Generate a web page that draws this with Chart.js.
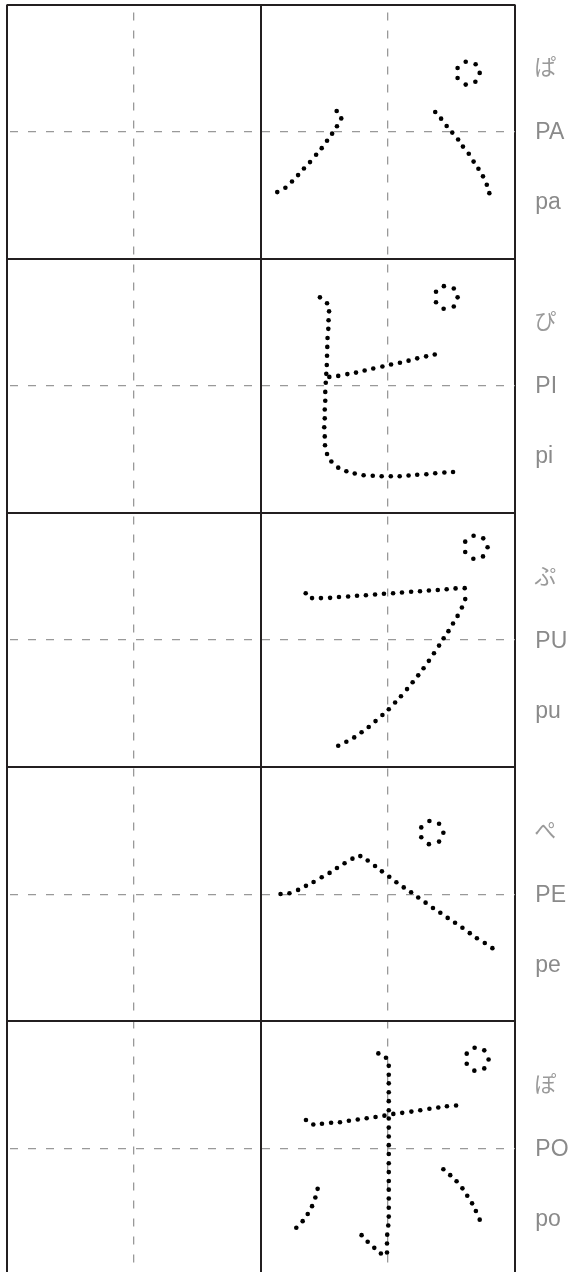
<!DOCTYPE html>
<html><head><meta charset="utf-8">
<script src="https://cdn.jsdelivr.net/npm/chart.js@4.4.0/dist/chart.umd.min.js"></script>
<style>html,body{margin:0;padding:0;background:#fff;}canvas{display:block;}</style>
</head><body>
<canvas id="c" width="574" height="1276"></canvas>
<script>
// Row labels
const kanaLabels = ['ぱ', 'ぴ', 'ぷ', 'ぺ', 'ぽ'];
const upperLabels = ['PA', 'PI', 'PU', 'PE', 'PO'];
const lowerLabels = ['pa', 'pi', 'pu', 'pe', 'po'];

// Grid values (cell units: each cell is 100 wide / 100 tall)
const xGridValues = [0, 50, 100, 150, 200];
const yGridValues = [0, 50, 100, 150, 200, 250, 300, 350, 400, 450];

// Dot positions of each katakana inside its cell (x, y in 0..100 of the cell)
const paPoints = [
  [29.8,41.9],[31.6,44.8],[29.9,47.9],[28.0,50.8],[26.0,53.6],[23.9,56.5],[21.7,59.1],[19.3,62.0],[16.9,64.5],[14.6,67.1],[12.2,69.6],[9.6,72.1],[6.4,73.8],
  [68.6,42.3],[70.9,44.9],[73.1,47.8],[75.3,50.4],[77.6,53.1],[79.5,55.9],[81.8,58.7],[83.7,61.8],[85.6,64.6],[87.4,67.6],[88.9,70.9],[89.9,74.2],
  [80.6,22.5],[84.5,23.5],[86.1,26.9],[84.4,30.4],[80.6,31.5],[77.4,28.9],[77.4,25.0]
];
const piPoints = [
  [23.2,15.2],[26.0,17.5],[26.8,20.7],[26.6,24.2],[26.5,27.6],[26.2,31.2],[26.1,34.7],[26.0,38.2],[25.9,41.8],[25.7,45.3],[25.5,48.8],[25.3,52.4],[25.3,55.9],[25.1,59.3],[25.1,62.8],[24.9,66.3],[25.1,69.9],[25.2,73.4],[26.0,76.8],[27.7,79.8],[30.4,82.2],[33.6,83.6],[36.9,84.5],[40.4,85.2],[44.0,85.4],[47.5,85.6],[51.1,85.6],[54.6,85.6],[58.1,85.3],[61.5,85.0],[65.1,84.8],[68.6,84.4],[72.2,84.1],[75.6,83.9],
  [26.9,46.5],[30.4,46.1],[34.0,45.4],[37.4,44.8],[40.8,44.0],[44.2,43.2],[47.8,42.4],[51.2,41.6],[54.7,40.9],[58.1,40.1],[61.5,39.2],[65.0,38.4],[68.4,37.7],
  [72.0,10.8],[75.9,11.7],[77.4,15.2],[75.9,18.8],[71.9,19.7],[68.9,17.1],[68.9,13.0]
];
const puPoints = [
  [17.6,31.6],[20.1,33.5],[23.6,33.5],[27.2,33.4],[30.7,33.1],[34.3,32.9],[37.8,32.6],[41.3,32.4],[44.9,32.1],[48.4,31.8],[52.0,31.6],[55.5,31.3],[59.1,31.0],[62.6,30.8],[66.1,30.5],[69.6,30.3],[73.1,30.0],[76.6,29.7],[80.2,29.6],
  [80.4,33.9],[79.1,37.2],[77.4,40.5],[75.6,43.5],[73.8,46.5],[71.9,49.3],[70.1,52.2],[68.1,55.2],[66.1,58.2],[64.0,61.1],[61.9,63.9],[59.7,66.6],[57.5,69.3],[55.1,72.1],[52.8,74.6],[50.3,77.2],[47.8,79.5],[45.1,81.9],[42.4,84.2],[39.6,86.3],[36.7,88.3],[33.6,90.0],[30.4,91.6],
  [83.7,9.0],[87.5,10.0],[89.2,13.5],[87.4,17.1],[83.6,18.0],[80.4,15.4],[80.4,11.3]
];
const pePoints = [
  [7.7,49.9],[11.2,49.6],[14.6,48.3],[17.7,46.7],[20.7,45.2],[23.9,43.3],[27.0,41.6],[29.9,39.7],[32.9,37.8],[36.0,36.0],[39.1,35.0],[42.0,36.7],[44.9,38.9],[47.6,41.0],[50.5,43.1],[53.3,45.3],[56.2,47.3],[59.1,49.2],[61.9,51.3],[64.8,53.3],[67.7,55.4],[70.6,57.3],[73.5,59.3],[76.4,61.2],[79.3,63.2],[82.2,65.3],[85.0,67.3],[88.1,69.2],[91.1,71.2],
  [66.3,21.2],[70.1,22.3],[71.8,25.8],[70.1,29.3],[66.1,30.3],[63.1,27.6],[63.1,23.7]
];
const poPoints = [
  [46.2,12.6],[49.2,14.3],[50.3,17.5],[50.3,21.0],[50.3,24.4],[50.3,27.9],[50.3,31.4],[50.3,35.0],[50.3,38.2],[50.3,41.8],[50.3,45.3],[50.3,48.7],[50.3,52.2],[50.3,55.8],[50.3,59.3],[50.3,62.8],[50.3,66.2],[50.3,69.7],[50.3,73.3],[50.3,76.8],[50.1,80.3],[49.7,83.9],[49.6,87.4],[49.6,90.9],
  [47.2,91.3],[44.6,89.1],[42.0,86.7],[39.6,84.1],
  [17.7,38.8],[20.6,40.6],[24.0,40.3],[27.6,39.9],[31.1,39.7],[34.6,39.1],[38.1,38.6],[41.6,38.1],[45.1,37.6],[48.6,37.1],[52.1,36.4],[55.6,36.0],[59.2,35.5],[62.7,35.0],[66.3,34.4],[69.8,33.9],[73.2,33.4],[76.8,33.1],
  [22.3,65.9],[21.4,69.3],[20.1,72.7],[18.4,75.8],[16.4,78.6],[13.9,81.2],
  [71.8,58.2],[74.5,60.5],[77.0,62.9],[79.3,65.7],[81.2,68.6],[83.1,71.6],[84.6,74.6],[86.1,78.0],
  [84.1,10.4],[87.9,11.4],[89.6,15.0],[87.9,18.5],[84.0,19.4],[81.0,16.7],[81.0,12.7]
];
const charPoints = [paPoints, piPoints, puPoints, pePoints, poPoints];

const LABEL_X = 208;
const LABEL_ROW_Y = [24.5, 50.5, 78];

const datasets = charPoints.map((pts, row) => ({
  label: upperLabels[row],
  data: pts.map(p => ({x: 100 + p[0], y: row * 100 + p[1]})),
  pointRadius: 2.3,
  pointBackgroundColor: '#000',
  pointBorderWidth: 0,
  showLine: false
}));

const labelPlugin = {
  id: 'rowLabels',
  afterDraw(chart) {
    const {ctx, scales: {x, y}} = chart;
    ctx.save();
    ctx.textAlign = 'left';
    ctx.textBaseline = 'middle';
    const px = x.getPixelForValue(LABEL_X);
    for (let r = 0; r < kanaLabels.length; r++) {
      ctx.fillStyle = '#9a9a9a';
      ctx.font = '400 22px "Noto Sans CJK JP"';
      ctx.fillText(kanaLabels[r], px - 1, y.getPixelForValue(r * 100 + LABEL_ROW_Y[0]));
      ctx.fillStyle = '#8a8a8a';
      ctx.font = '400 23px "Liberation Sans", Arial, sans-serif';
      ctx.fillText(upperLabels[r], px, y.getPixelForValue(r * 100 + LABEL_ROW_Y[1]));
      ctx.fillText(lowerLabels[r], px, y.getPixelForValue(r * 100 + LABEL_ROW_Y[2]));
    }
    ctx.restore();
  }
};

const isSolid = v => v % 100 === 0;

new Chart(document.getElementById('c'), {
  type: 'scatter',
  data: {datasets},
  options: {
    responsive: false,
    animation: false,
    devicePixelRatio: 1,
    layout: {padding: {left: 7, top: 4.5, right: 59, bottom: 0}},
    plugins: {legend: {display: false}, tooltip: {enabled: false}},
    scales: {
      x: {
        type: 'linear', min: 0, max: 200,
        afterBuildTicks: s => { s.ticks = xGridValues.map(v => ({value: v})); },
        ticks: {display: false},
        border: {display: false, dash: c => (c.tick && !isSolid(c.tick.value)) ? [8, 10] : [], dashOffset: 10},
        grid: {
          drawTicks: false,
          color: c => (c.tick && isSolid(c.tick.value)) ? '#231f20' : '#999999',
          lineWidth: c => (c.tick && isSolid(c.tick.value)) ? 2 : 1.3
        }
      },
      y: {
        type: 'linear', min: 0, max: 498.6, reverse: true,
        afterBuildTicks: s => { s.ticks = yGridValues.map(v => ({value: v})); },
        ticks: {display: false},
        border: {display: false, dash: c => (c.tick && !isSolid(c.tick.value)) ? [8, 10] : [], dashOffset: 15},
        grid: {
          drawTicks: false,
          color: c => (c.tick && isSolid(c.tick.value)) ? '#231f20' : '#999999',
          lineWidth: c => (c.tick && isSolid(c.tick.value)) ? 2 : 1.3
        }
      }
    }
  },
  plugins: [labelPlugin]
});
</script>
</body></html>
